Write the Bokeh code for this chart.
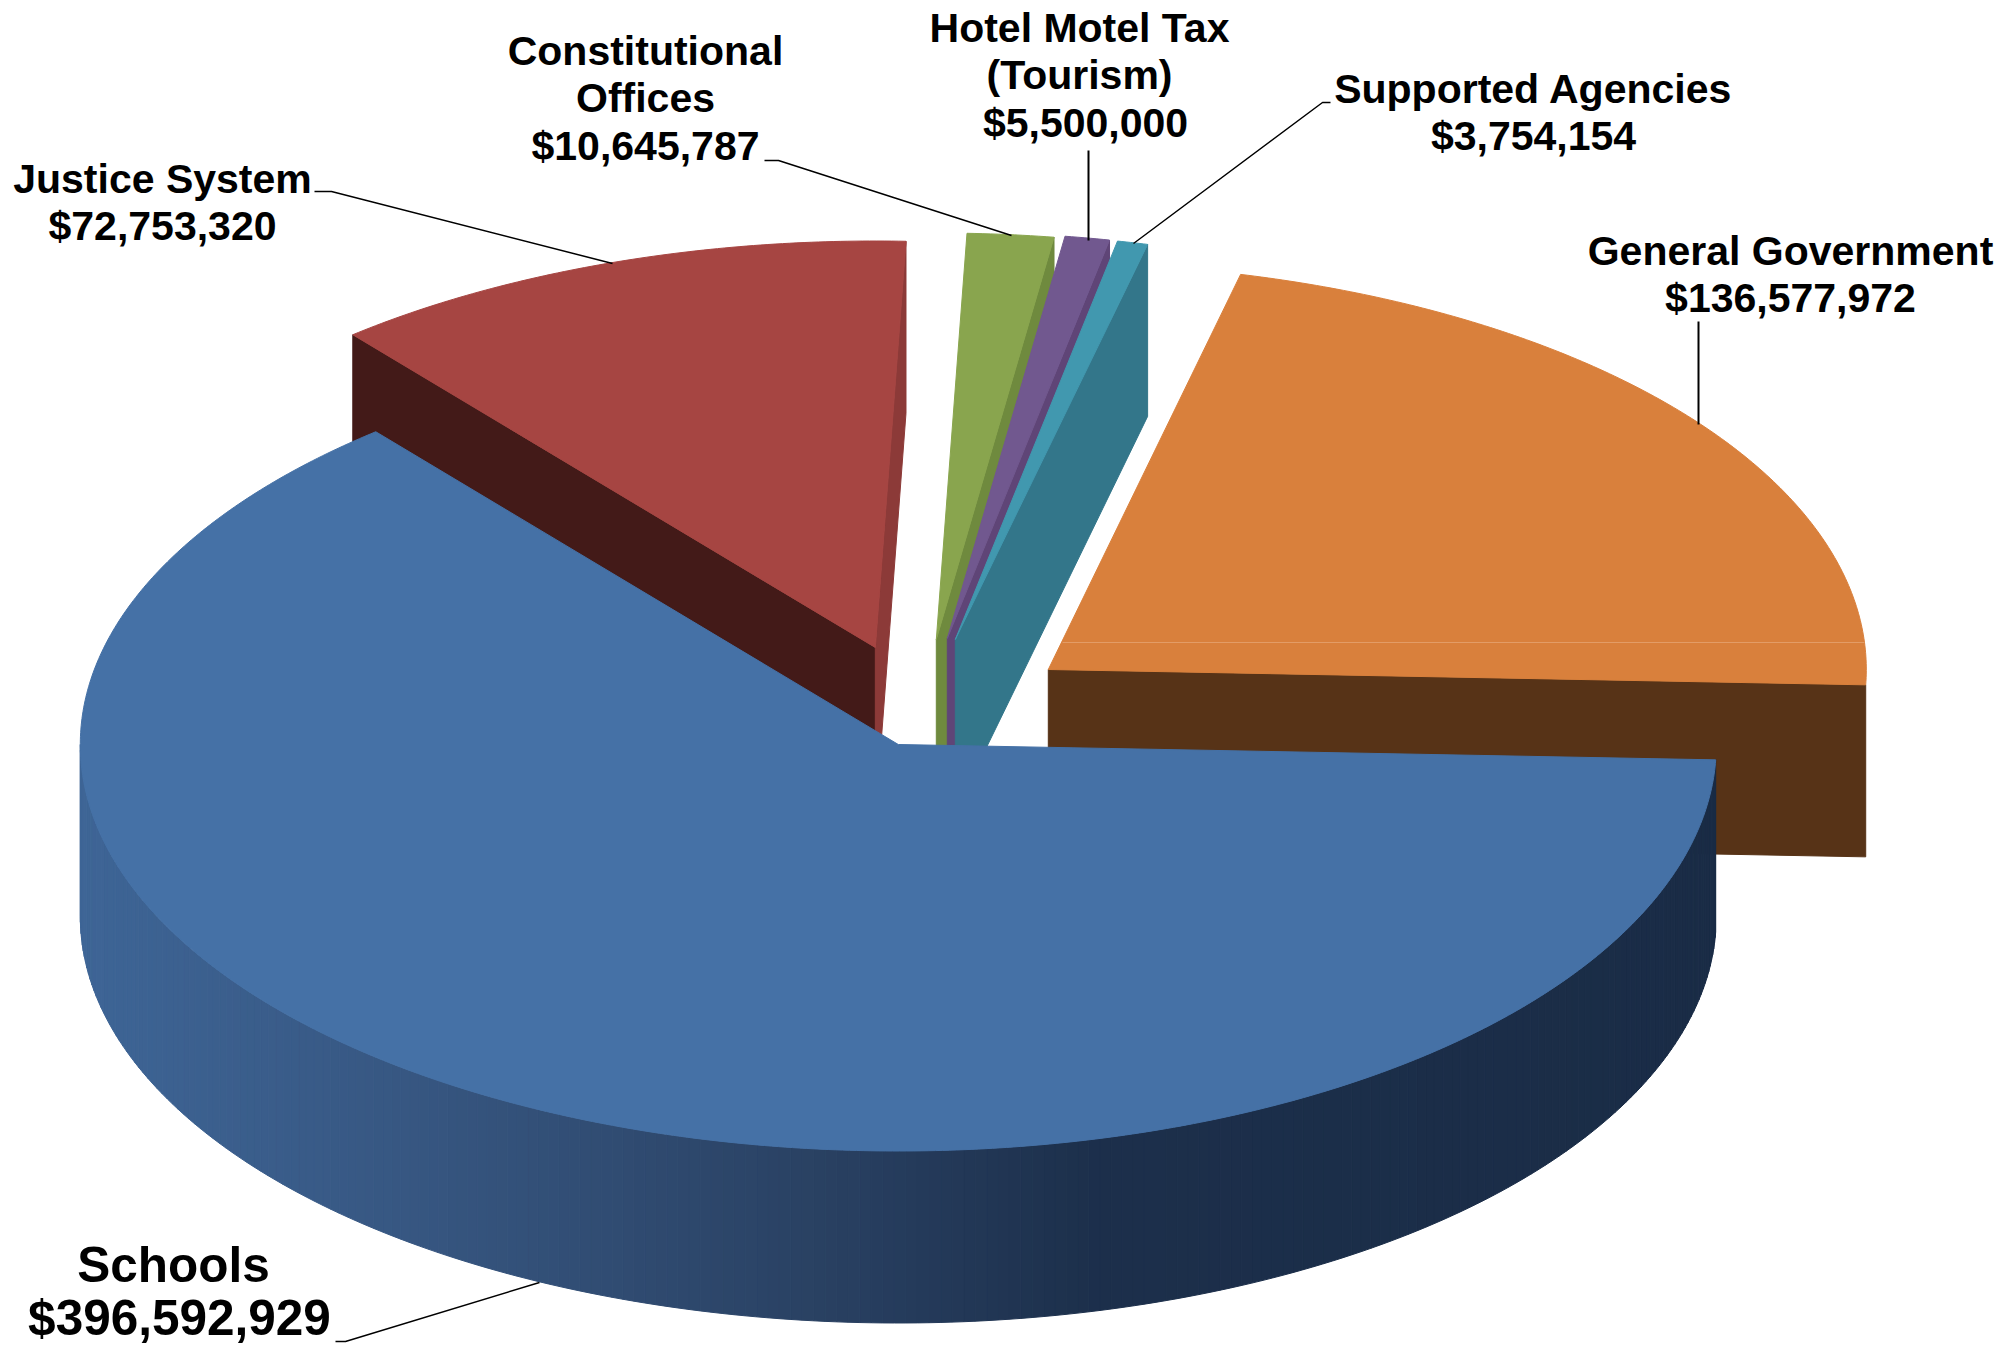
import numpy as np
from bokeh.embed import file_html
from bokeh.resources import INLINE
from bokeh.plotting import figure
from bokeh.models import Range1d
from bokeh.core.properties import value

# ---- data ----
categories = ["Justice System", "Constitutional Offices", "Hotel Motel Tax (Tourism)",
              "Supported Agencies", "General Government", "Schools"]
amounts = [72753320, 10645787, 5500000, 3754154, 136577972, 396592929]
label_lines = [["Justice System"], ["Constitutional", "Offices"], ["Hotel Motel Tax", "(Tourism)"],
               ["Supported Agencies"], ["General Government"], ["Schools"]]

# ---- styles ----
top_colors = ["#A64542", "#89A54E", "#71588F", "#4198AF", "#D9803C", "#4571A6"]
start_face = ["#431A18", None, None, None, None, None]
end_face = ["#8C3A38", "#6F8A3E", "#5F4577", "#33768A", "#573317", None]

# ---- geometry (reference pixels) ----
W, H = 2003, 1344
CX, CY, RX, RY, DEPTH = 897.8, 744.0, 818.0, 406.5, 172.0
START = 129.7
explode_dx = [-23, 38, 49, 57, 150, 0]
explode_dy = [-97, -105, -106, -105, -75, 0]

# label anchors: centre x of name lines, centre x of amount line, first baseline, line step, font px
label_cx = [162, 645, 1079, 1533, 1790, 173]
amount_cx = [162, 645, 1085, 1533, 1790, 179]
label_y0 = [178, 50, 27, 88, 250, 1264]
label_step = [47.5, 47.5, 47.5, 47.5, 47.5, 53]
label_px = [41, 41, 41, 41, 41, 49.5]

leaders = [
    ([314, 331, 612], [191, 191, 263], 1.5),
    ([764, 778, 1011], [160, 160, 235], 1.5),
    ([1088, 1088], [150, 240], 2),
    ([1330, 1322, 1133], [102, 102, 243], 1.5),
    ([1698, 1698], [321, 424], 2),
    ([335, 345, 539], [1341, 1341, 1282], 1.5),
]
seam_x, seam_y = [1062, 1864], [642, 642]

# rim gradient: x position -> colour
rim_x = [80, 400, 800, 1100, 1725]
rim_rgb = [(0x3E, 0x65, 0x96), (0x37, 0x57, 0x82), (0x2A, 0x42, 0x64), (0x1C, 0x2F, 0x4B), (0x1A, 0x2C, 0x46)]

p = figure(width=W, height=H, output_backend="svg", toolbar_location=None,
           x_range=Range1d(0, W), y_range=Range1d(H, 0), min_border=0)
p.axis.visible = False
p.grid.visible = False
p.outline_line_color = None
p.background_fill_color = "white"


def arc(cx, cy, t1, t2, n):
    t = np.radians(np.linspace(t1, t2, n))
    return cx + RX * np.cos(t), cy - RY * np.sin(t)


def poly(xs, ys, color):
    p.patch(list(xs), list(ys), fill_color=color, line_color=color, line_width=1)


def hexcol(rgb):
    return "#%02x%02x%02x" % tuple(int(round(c)) for c in rgb)


total = sum(amounts)
angle = START
for i, v in enumerate(amounts):
    sweep = 360.0 * v / total
    t1, t2 = angle, angle - sweep
    angle = t2
    ax, ay = CX + explode_dx[i], CY + explode_dy[i]
    # cut faces
    for t, col in ((t1, start_face[i]), (t2, end_face[i])):
        if col:
            ex, ey = arc(ax, ay, t, t, 1)
            poly([ax, ex[0], ex[0], ax], [ay, ey[0], ey[0] + DEPTH, ay + DEPTH], col)
    # front rim with gradient
    lo, hi = max(t2, -180), min(t1, 0)
    if i == len(amounts) - 1 and hi > lo:
        n = 220
        ts = np.linspace(hi, lo, n + 1)
        for a, b in zip(ts[:-1], ts[1:]):
            xa, ya = arc(ax, ay, a, b, 2)
            xm = xa.mean()
            rgb = [np.interp(xm, rim_x, [c[k] for c in rim_rgb]) for k in range(3)]
            poly([xa[0], xa[1], xa[1], xa[0]], [ya[0], ya[1], ya[1] + DEPTH, ya[0] + DEPTH], hexcol(rgb))
    # top face
    xs, ys = arc(ax, ay, t1, t2, max(int(sweep * 2), 8))
    poly(np.r_[ax, xs], np.r_[ay, ys], top_colors[i])
    if i == 4:
        p.line(seam_x, seam_y, line_color="#E39C66", line_width=1)

# leaders
for lx, ly, lw in leaders:
    p.line(lx, ly, line_color="black", line_width=lw)

# labels
for i, v in enumerate(amounts):
    lines = label_lines[i] + ["${:,}".format(v)]
    xs = [label_cx[i]] * (len(lines) - 1) + [amount_cx[i]]
    p.text(xs, [label_y0[i] + k * label_step[i] for k in range(len(lines))],
           text=lines, text_font=value("Liberation Sans"), text_font_style="bold",
           text_font_size=value("%gpx" % label_px[i]), text_align="center",
           text_baseline="alphabetic", text_color="black")

open("out.html", "w").write(file_html(p, INLINE))
